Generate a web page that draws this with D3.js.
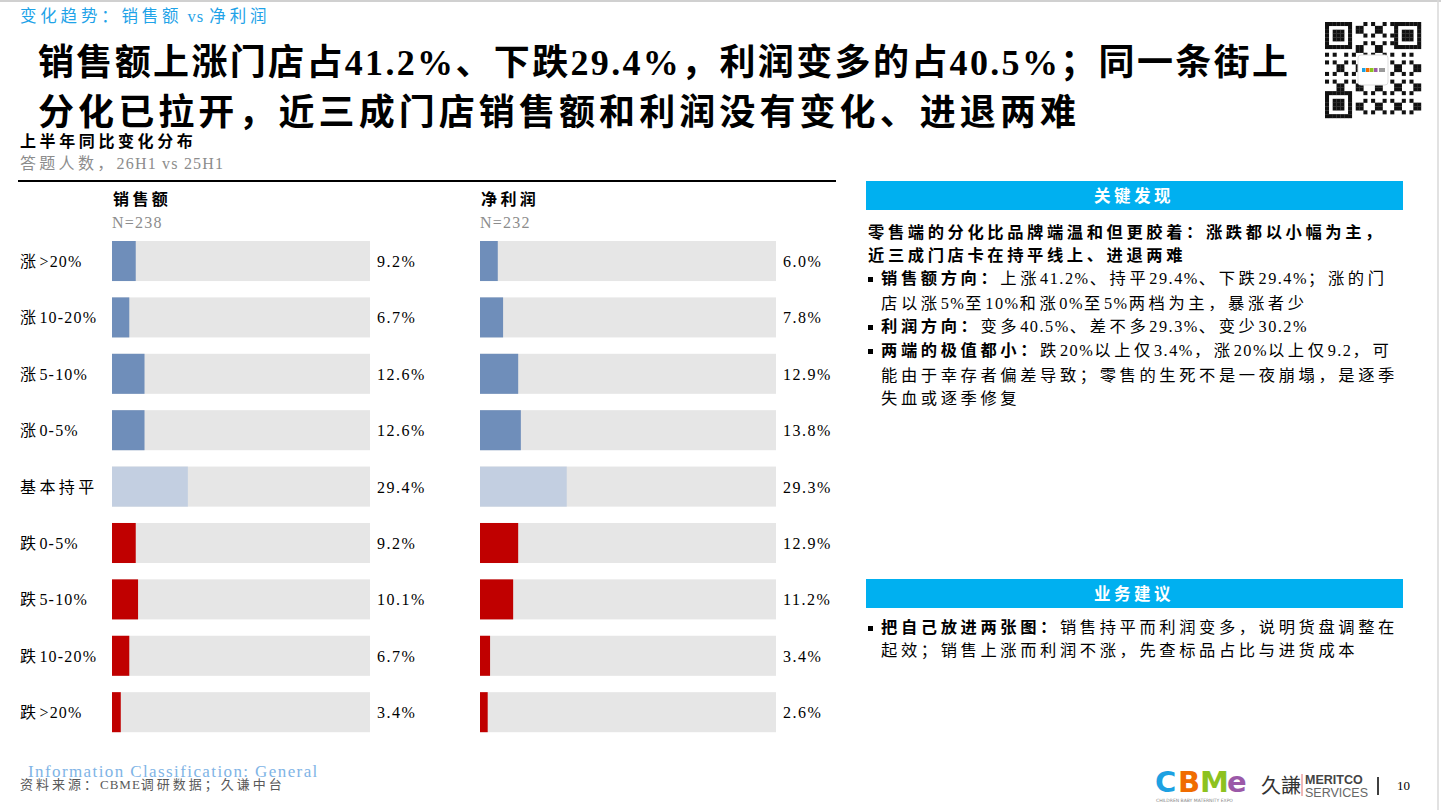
<!DOCTYPE html>
<html>
<head>
<meta charset="utf-8">
<script src="https://cdn.jsdelivr.net/npm/d3@7/dist/d3.min.js"></script>
<style>
  body { margin: 0; background: #fff; }
  svg { display: block; font-family: "Liberation Serif", "Noto Sans CJK SC", serif; }
</style>
</head>
<body>
<script>
// chart data
const categories = ['涨>20%', '涨10-20%', '涨5-10%', '涨0-5%', '基本持平', '跌0-5%', '跌5-10%', '跌10-20%', '跌>20%'];
const categoryKind = ['up', 'up', 'up', 'up', 'flat', 'down', 'down', 'down', 'down'];
const salesValues = [9.2, 6.7, 12.6, 12.6, 29.4, 9.2, 10.1, 6.7, 3.4];
const profitValues = [6.0, 7.8, 12.9, 13.8, 29.3, 12.9, 11.2, 3.4, 2.6];
const panels = [
  { name: '销售额', n: 'N=238', values: salesValues },
  { name: '净利润', n: 'N=232', values: profitValues }
];

const titleLines = [
  '销售额上涨门店占41.2%、下跌29.4%，利润变多的占40.5%；同一条街上',
  '分化已拉开，近三成门店销售额和利润没有变化、进退两难'
];

// right-hand notes: [bullet?, bold part, normal part]
const findingLines = [
  [false, '零售端的分化比品牌端温和但更胶着：涨跌都以小幅为主，', ''],
  [false, '近三成门店卡在持平线上、进退两难', ''],
  [true, '销售额方向：', '上涨41.2%、持平29.4%、下跌29.4%；涨的门'],
  [false, '', '店以涨5%至10%和涨0%至5%两档为主，暴涨者少'],
  [true, '利润方向：', '变多40.5%、差不多29.3%、变少30.2%'],
  [true, '两端的极值都小：', '跌20%以上仅3.4%，涨20%以上仅9.2，可'],
  [false, '', '能由于幸存者偏差导致；零售的生死不是一夜崩塌，是逐季'],
  [false, '', '失血或逐季修复']
];
const adviceLines = [
  [true, '把自己放进两张图：', '销售持平而利润变多，说明货盘调整在'],
  [false, '', '起效；销售上涨而利润不涨，先查标品占比与进货成本']
];

const COLORS = { up: '#6f8eba', flat: '#c3cfe1', down: '#c00000' };
const TRACK = '#e6e6e6';
const CYAN = '#00b0f0';
const CJK = /[\u3000-\u303f\u4e00-\u9fff\uff00-\uffef]/;

// split a string into CJK / latin runs so each gets its own tracking
function addRuns(textSel, str, cjkGap = 3.5, latinGap = 1.5, bold = false) {
  const parts = [];
  for (const ch of str) {
    const isC = CJK.test(ch);
    const last = parts[parts.length - 1];
    if (last && last.c === isC) last.s += ch;
    else parts.push({ c: isC, s: ch });
  }
  parts.forEach(p => {
    const t = textSel.append('tspan')
      .attr('letter-spacing', p.c ? cjkGap : latinGap)
      .text(p.s);
    if (bold) t.attr('font-weight', 'bold');
  });
  return textSel;
}

const svg = d3.select('body').append('svg')
  .attr('width', 1441)
  .attr('height', 810);

// page frame
svg.append('line').attr('x1', 0).attr('x2', 1441).attr('y1', 1).attr('y2', 1)
  .attr('stroke', '#d0d0d0').attr('stroke-width', 2);
svg.append('line').attr('x1', 1438).attr('x2', 1438).attr('y1', 0).attr('y2', 810)
  .attr('stroke', '#d9d9d9').attr('stroke-width', 1.5);

// header
addRuns(svg.append('text').attr('x', 20).attr('y', 22)
  .attr('font-size', 16.5).attr('fill', '#1fa3e8'), '变化趋势：销售额 vs 净利润', 3.8, 1);

const titleWidths = [1250, 1038];
svg.append('g').selectAll('text')
  .data(titleLines)
  .join('text')
  .attr('x', 38)
  .attr('y', (d, i) => 75 + i * 50)
  .attr('font-size', 36)
  .attr('font-weight', 'bold')
  .attr('fill', '#000')
  .attr('textLength', (d, i) => titleWidths[i])
  .attr('lengthAdjust', 'spacing')
  .text(d => d);

// qr code (decoration)
const qr = svg.append('g').attr('transform', 'translate(1325,22)');
const QN = 25;
const cell = 96 / QN;
const finder = (r, c) => (r < 7 && c < 7) || (r < 7 && c >= QN - 7) || (r >= QN - 7 && c < 7);
for (let r = 0; r < QN; r += 1) {
  for (let c = 0; c < QN; c += 1) {
    let on;
    if (finder(r, c)) {
      const rr = r >= QN - 7 ? r - (QN - 7) : r;
      const cc = c >= QN - 7 ? c - (QN - 7) : c;
      on = rr === 0 || rr === 6 || cc === 0 || cc === 6 || (rr >= 2 && rr <= 4 && cc >= 2 && cc <= 4);
    } else if ((r === 7 && (c < 8 || c >= QN - 8)) || (c === 7 && (r < 8 || r >= QN - 8))) {
      on = false;
    } else {
      on = ((r * 7 + c * 13 + r * c * 3) % 5) < 2;
    }
    if (on) {
      qr.append('rect').attr('x', c * cell).attr('y', r * cell)
        .attr('width', cell + 0.2).attr('height', cell + 0.2).attr('fill', '#111');
    }
  }
}
qr.append('rect').attr('x', 33).attr('y', 33).attr('width', 30).attr('height', 30)
  .attr('rx', 3).attr('fill', '#fff').attr('stroke', '#ddd');
['#1da1e2', '#f06c00', '#8dc21f', '#9b59a8'].forEach((c, i) => {
  qr.append('rect').attr('x', 37 + i * 4).attr('y', 46).attr('width', 3.5).attr('height', 4).attr('fill', c);
});
qr.append('rect').attr('x', 54).attr('y', 46).attr('width', 6).attr('height', 4).attr('fill', '#999');

// chart section heading
addRuns(svg.append('text').attr('x', 20).attr('y', 147)
  .attr('font-size', 16).attr('font-weight', 'bold'), '上半年同比变化分布', 3.6);
addRuns(svg.append('text').attr('x', 20).attr('y', 169)
  .attr('font-size', 16).attr('fill', '#8c8c8c'), '答题人数，26H1 vs 25H1', 3.3, 1.2);
svg.append('line').attr('x1', 18).attr('x2', 836).attr('y1', 181).attr('y2', 181)
  .attr('stroke', '#000').attr('stroke-width', 2);

// scales
const y = d3.scaleBand()
  .domain(categories)
  .range([241, 732.2])
  .paddingInner(0.29)
  .paddingOuter(0);

const xScales = [
  d3.scaleLinear().domain([0, 100]).range([112, 370]),
  d3.scaleLinear().domain([0, 100]).range([480, 776])
];

// category labels
svg.append('g').selectAll('text')
  .data(categories)
  .join('text')
  .attr('x', 20)
  .attr('y', d => y(d) + y.bandwidth() / 2 + 6)
  .attr('font-size', 16)
  .each(function (d) { addRuns(d3.select(this), d, 3.4, 1.2); });

panels.forEach((p, pi) => {
  const x = xScales[pi];
  const g = svg.append('g').attr('class', 'panel');
  addRuns(g.append('text').attr('x', x(0) + 1).attr('y', 205)
    .attr('font-size', 16).attr('font-weight', 'bold'), p.name, 3.4);
  g.append('text').attr('x', x(0)).attr('y', 228)
    .attr('font-size', 16).attr('fill', '#8c8c8c')
    .attr('letter-spacing', 1.2).text(p.n);

  g.append('g').selectAll('rect')
    .data(categories)
    .join('rect')
    .attr('x', x(0))
    .attr('y', d => y(d))
    .attr('width', x(100) - x(0))
    .attr('height', y.bandwidth())
    .attr('fill', TRACK);

  g.append('g').selectAll('rect')
    .data(p.values)
    .join('rect')
    .attr('x', x(0))
    .attr('y', (d, i) => y(categories[i]))
    .attr('width', d => x(d) - x(0))
    .attr('height', y.bandwidth())
    .attr('fill', (d, i) => COLORS[categoryKind[i]]);

  g.append('g').selectAll('text')
    .data(p.values)
    .join('text')
    .attr('x', x(100) + 7)
    .attr('y', (d, i) => y(categories[i]) + y.bandwidth() / 2 + 6)
    .attr('font-size', 16)
    .attr('letter-spacing', 1.5)
    .text(d => `${d.toFixed(1)}%`);
});

// right side boxes
function drawBox(title, top, lines, lineYs) {
  svg.append('rect').attr('x', 866).attr('y', top).attr('width', 537).attr('height', 29)
    .attr('fill', CYAN);
  addRuns(svg.append('text').attr('x', 1134).attr('y', top + 21)
    .attr('text-anchor', 'middle').attr('font-size', 16.5).attr('font-weight', 'bold')
    .attr('fill', '#fff'), title, 3.5);
  lines.forEach((ln, i) => {
    const [bullet, boldPart, normalPart] = ln;
    const cy = lineYs[i];
    let tx = 868;
    if (bullet) {
      svg.append('rect').attr('x', 868).attr('y', cy - 1).attr('width', 5).attr('height', 5).attr('fill', '#000');
      tx = 881;
    } else if (boldPart === '') {
      tx = 881;
    }
    const t = svg.append('text').attr('x', tx).attr('y', cy + 6).attr('font-size', 16.3);
    if (boldPart) addRuns(t, boldPart, 3.6, 1.5, true);
    if (normalPart) addRuns(t, normalPart, 3.6, 1.5);
  });
}

drawBox('关键发现', 181, findingLines, [232, 255, 278, 303, 326, 350, 375, 398]);
drawBox('业务建议', 579, adviceLines, [627, 650]);

// footer
svg.append('text').attr('x', 28).attr('y', 777)
  .attr('font-size', 17).attr('fill', '#80b4e6')
  .attr('letter-spacing', 1.4)
  .text('Information Classification: General');
addRuns(svg.append('text').attr('x', 20).attr('y', 789)
  .attr('font-size', 13).attr('fill', '#595959'), '资料来源：CBME调研数据；久谦中台', 3, 1);

const logo = svg.append('g').attr('transform', 'translate(1155,792)');
[['C', '#1da1e2', 0], ['B', '#f06c00', 23], ['M', '#8dc21f', 45], ['e', '#9b59a8', 72]].forEach(([ch, col, dx]) => {
  logo.append('text').attr('x', dx).attr('y', 0)
    .attr('font-family', '"DejaVu Sans", sans-serif').attr('font-weight', 'bold')
    .attr('font-size', 29).attr('fill', col).text(ch);
});
logo.append('text').attr('x', 1).attr('y', 10)
  .attr('font-family', '"DejaVu Sans", sans-serif').attr('font-size', 4.5).attr('fill', '#888')
  .text('CHILDREN BABY MATERNITY EXPO');

svg.append('text').attr('x', 1261).attr('y', 793)
  .attr('font-family', '"Noto Sans CJK SC", sans-serif').attr('font-size', 20)
  .attr('fill', '#333').text('久謙');
svg.append('line').attr('x1', 1302).attr('x2', 1302).attr('y1', 774).attr('y2', 796)
  .attr('stroke', '#e07070').attr('stroke-width', 1);
svg.append('text').attr('x', 1305).attr('y', 784)
  .attr('font-family', '"Liberation Sans Narrow", "Liberation Sans", sans-serif').attr('font-size', 12.5)
  .attr('font-weight', 'bold').attr('fill', '#444').text('MERITCO');
svg.append('text').attr('x', 1305).attr('y', 797)
  .attr('font-family', '"Liberation Sans Narrow", "Liberation Sans", sans-serif').attr('font-size', 12.5)
  .attr('fill', '#666').text('SERVICES');
svg.append('line').attr('x1', 1378).attr('x2', 1378).attr('y1', 777).attr('y2', 795)
  .attr('stroke', '#000').attr('stroke-width', 1.5);
svg.append('text').attr('x', 1397).attr('y', 790)
  .attr('font-size', 13).text('10');
</script>
</body>
</html>
